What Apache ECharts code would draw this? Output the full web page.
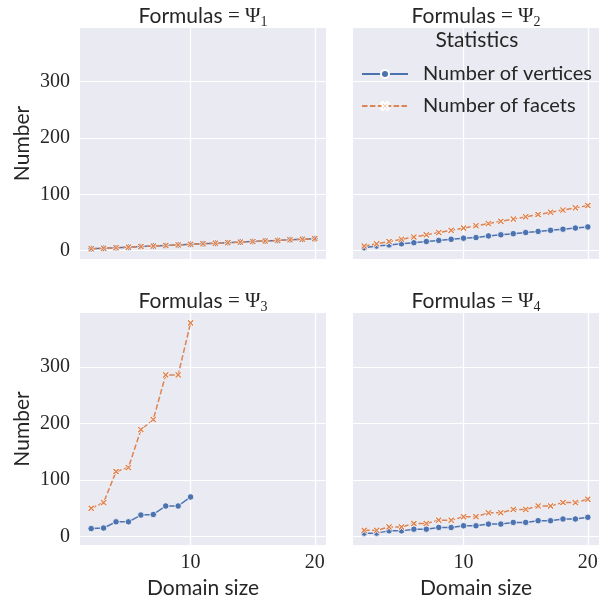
<!DOCTYPE html>
<html><head><meta charset="utf-8">
<script src="https://cdn.jsdelivr.net/npm/echarts@6/dist/echarts.min.js"></script>
<style>html,body{margin:0;padding:0;background:#fff}#c{width:609px;height:602px}</style>
</head><body><div id="c"></div>
<script>
const domain = [2,3,4,5,6,7,8,9,10,11,12,13,14,15,16,17,18,19,20];
const domain3 = [2,3,4,5,6,7,8,9,10];
const psi1Vertices = [3,4,5,6,7,8,9,10,11,12,13,14,15,16,17,18,19,20,21];
const psi1Facets   = [3,4,5,6,7,8,9,10,11,12,13,14,15,16,17,18,19,20,21];
const psi2Vertices = [5,8,10,12,14,16,18,20,22,23,26,28,30,32,34,36,38,40,42];
const psi2Facets   = [8,12,16,20,24,28,32,36,40,44,48,52,56,60,64,68,72,76,80];
const psi3Vertices = [14,15,26,26,38,39,54,54,70];
const psi3Facets   = [50,60,115,122,189,207,286,286,378];
const psi4Vertices = [6,6,10,10,13,13,16,16,19,19,22,22,25,25,28,28,31,31,34];
const psi4Facets   = [11,11,17,17,23,23,29,29,35,35,42,42,48,48,54,54,60,60,66];
const xTicks = [10,20];
const yTicks = [0,100,200,300];
const panelTitles = ['1','2','3','4'];
const seriesNames = ['Number of vertices','Number of facets'];

const BLUE = '#4c72b0', ORANGE = '#dd8452', TXT = '#262626';
const SANS = 'Lato', SERIF = 'Liberation Serif';
const XPATH = 'path://M2,0 L5,3 L8,0 L10,2 L7,5 L10,8 L8,10 L5,7 L2,10 L0,8 L3,5 L0,2 Z';

const grids = [
  {left:80, top:28, width:246, height:231},
  {left:353, top:28, width:246, height:231},
  {left:80, top:313, width:246, height:232},
  {left:353, top:313, width:246, height:232}
];
const xAxes = grids.map((g,i)=>({
  type:'value', gridIndex:i, min:1.1, max:20.9,
  axisLine:{show:false}, axisTick:{show:false, customValues:xTicks},
  axisLabel:{show:i>=2, customValues:xTicks, fontFamily:SERIF, fontSize:20, color:TXT, margin:8},
  splitLine:{show:true, lineStyle:{color:'#ffffff', width:1.2}},
  name: i>=2 ? 'Domain size' : '', nameLocation:'middle', nameGap:33,
  nameTextStyle:{fontFamily:SANS, fontSize:21, color:TXT}
}));
const yAxes = grids.map((g,i)=>({
  type:'value', gridIndex:i, min:-15, max:395.5,
  axisLine:{show:false}, axisTick:{show:false, customValues:yTicks},
  axisLabel:{show:i%2===0, customValues:yTicks, fontFamily:SERIF, fontSize:20, color:TXT, margin:10},
  splitLine:{show:true, lineStyle:{color:'#ffffff', width:1.2}},
  name: i%2===0 ? 'Number' : '', nameLocation:'middle', nameGap:47,
  nameTextStyle:{fontFamily:SANS, fontSize:21, color:TXT}
}));

function zip(xs, ys){ return ys.map((y,k)=>[xs[k], y]); }
const panelData = [
  [zip(domain, psi1Vertices), zip(domain, psi1Facets)],
  [zip(domain, psi2Vertices), zip(domain, psi2Facets)],
  [zip(domain3, psi3Vertices), zip(domain3, psi3Facets)],
  [zip(domain, psi4Vertices), zip(domain, psi4Facets)]
];
const series = [];
panelData.forEach((pd,i)=>{
  series.push({
    name:seriesNames[0], type:'line', xAxisIndex:i, yAxisIndex:i, data:pd[0],
    symbol:'circle', symbolSize:6.5, showSymbol:true,
    lineStyle:{color:BLUE, width:1.5},
    itemStyle:{color:BLUE, borderColor:'#fff', borderWidth:0.8},
    animation:false, z:2
  });
  series.push({
    name:seriesNames[1], type:'line', xAxisIndex:i, yAxisIndex:i, data:pd[1],
    symbol:XPATH, symbolSize:7, showSymbol:true,
    lineStyle:{color:ORANGE, width:1.5, type:[5.5,2.4]},
    itemStyle:{color:ORANGE, borderColor:'#fff', borderWidth:0.8},
    animation:false, z:3
  });
});

const titleCenters = [[203,16],[476,16],[203,301],[476,301]];
const graphics = titleCenters.map((c,i)=>({
  type:'text', x:c[0], y:c[1],
  style:{
    text:'{a|Formulas }{b|= Ψ}{c|'+panelTitles[i]+'}',
    align:'center', verticalAlign:'middle',
    rich:{
      a:{fontFamily:SANS, fontSize:21, fill:TXT, lineHeight:26, verticalAlign:'middle'},
      b:{fontFamily:SERIF, fontSize:21, fill:TXT, lineHeight:26, verticalAlign:'middle'},
      c:{fontFamily:SERIF, fontSize:14, fill:TXT, lineHeight:14, verticalAlign:'bottom'}
    }
  }
}));
graphics.push({type:'text', x:477, y:40, z:100, style:{text:'Statistics', align:'center', verticalAlign:'middle', font:'21px '+SANS, fill:TXT}});

const option = {
  backgroundColor:'#ffffff',
  animation:false,
  grid: grids.map(g=>Object.assign({backgroundColor:'#eaeaf2', show:true, borderWidth:0}, g)),
  xAxis:xAxes, yAxis:yAxes, series:series,
  legend:{
    data:seriesNames, orient:'vertical', left:356, top:59,
    itemWidth:46, itemHeight:10, itemGap:12,
    textStyle:{fontFamily:SANS, fontSize:20, color:TXT, padding:[0,0,0,10]},
    selectedMode:false
  },
  graphic:graphics
};
const chart = echarts.init(document.getElementById('c'), null, {renderer:'canvas'});
chart.setOption(option);
</script></body></html>
